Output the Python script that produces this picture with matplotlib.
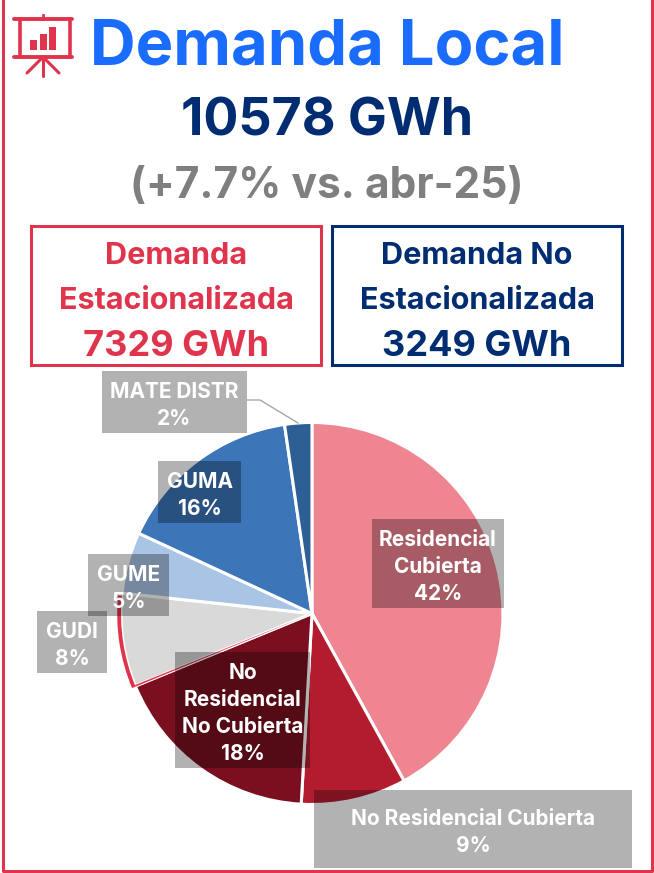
import matplotlib
matplotlib.use("Agg")
import matplotlib.pyplot as plt
from matplotlib.patches import Rectangle, Wedge

plt.rcParams['font.family'] = ['Inter', 'DejaVu Sans']

# Datos del grafico
segmentos = ["Residencial\nCubierta", "No Residencial Cubierta", "No\nResidencial\nNo Cubierta",
             "GUDI", "GUME", "GUMA", "MATE DISTR"]
porcentajes = [42, 9, 18, 8, 5, 16, 2]
valores = [42.0, 8.9, 17.9, 7.9, 5.2, 15.8, 2.3]
colores = ["#f08592", "#b31b2f", "#7a101f", "#d9d9d9", "#a9c4e4", "#3c75b8", "#2d5f94"]

titulo = "Demanda Local"
total = "10578 GWh"
variacion = "(+7.7% vs. abr-25)"
estacional = ["Demanda", "Estacionalizada", "7329 GWh"]
no_estacional = ["Demanda No", "Estacionalizada", "3249 GWh"]

ROJO = "#e0344d"
AZUL = "#002d72"

fig = plt.figure(figsize=(6.54, 8.73), dpi=100)

# Eje de fondo en pixeles, para los textos y cuadros
fondo = fig.add_axes([0, 0, 1, 1])
fondo.set_xlim(0, 654)
fondo.set_ylim(873, 0)
fondo.axis("off")

# Marco exterior
fondo.plot([2.5, 2.5, 651.5, 651.5], [0, 871, 871, 0], color=ROJO, lw=2.2)

# Icono de presentacion
fondo.plot([14, 72], [19, 19], color=ROJO, lw=2.8, solid_capstyle="round")
fondo.plot([14, 72], [57, 57], color=ROJO, lw=2.8, solid_capstyle="round")
fondo.plot([20, 20], [19, 57], color=ROJO, lw=2.6)
fondo.plot([70, 70], [19, 57], color=ROJO, lw=2.6)
fondo.plot([43, 43], [15, 19], color=ROJO, lw=2)
for xf, yf in [(27, 73), (59, 73), (43, 76)]:
    fondo.plot([43, xf], [57, yf], color=ROJO, lw=2.2, solid_capstyle="round")
for x0, y0 in [(30, 40), (40, 34), (49, 27)]:
    fondo.add_patch(Rectangle((x0, y0), 7, 50 - y0, color=ROJO, lw=0))

# Encabezados
fondo.text(327.5, 48, titulo, color="#1a6cff", fontsize=45.5, fontweight="bold", ha="center", va="center")
fondo.text(327, 122, total, color=AZUL, fontsize=37.4, fontweight="bold", ha="center", va="center")
fondo.text(327, 187, variacion, color="#7f7f7f", fontsize=30.6, fontweight="bold", ha="center", va="center")

# Cuadros de demanda
fondo.add_patch(Rectangle((31, 226), 289.5, 138.5, fc="white", ec=ROJO, lw=2.2))
fondo.add_patch(Rectangle((332, 226), 289.5, 138.5, fc="white", ec=AZUL, lw=2.2))
tam = [22, 22, 26]
for y, a, b, s in zip([256, 301, 347], estacional, no_estacional, tam):
    fondo.text(176, y, a, color=ROJO, fontsize=s, fontweight="bold", ha="center", va="center")
    fondo.text(477, y, b, color=AZUL, fontsize=s, fontweight="bold", ha="center", va="center")

# Torta
torta = fig.add_axes([121 / 654, 1 - 804.5 / 873, 382 / 654, 382 / 873])
wedges, _ = torta.pie(valores, colors=colores, startangle=90, counterclock=False, radius=1,
                      wedgeprops=dict(edgecolor="white", linewidth=2.2))
torta.set_xlim(-1, 1)
torta.set_ylim(-1, 1)
for w in wedges:
    w.set_clip_on(False)

# La porcion GUDI tiene un borde rojo por fuera y hacia la porcion oscura
gris = wedges[3]
torta.add_patch(Wedge((0, 0), 1.02, gris.theta1 + 0.8, gris.theta2 + 0.2, width=0.02, fc=ROJO, ec="none", clip_on=False))
torta.add_patch(Wedge((0, 0), 1.0, gris.theta2 - 0.3, gris.theta2 + 0.2, fc=ROJO, ec="none", clip_on=False))

# Capa superior para las etiquetas
capa = fig.add_axes([0, 0, 1, 1])
capa.set_xlim(0, 654)
capa.set_ylim(873, 0)
capa.axis("off")
capa.patch.set_alpha(0)

cajas = [(372, 519, 132, 89), (314, 790, 318, 78), (175, 652, 135, 116),
         (37, 611, 70, 62), (88, 554, 81, 62), (158, 461, 83, 62), (102, 371, 145, 62)]
for caja, seg, p in zip(cajas, segmentos, porcentajes):
    x, y, an, al = caja
    capa.add_patch(Rectangle((x, y), an, al, fc="black", alpha=0.3, lw=0))
    capa.text(x + an / 2, y + al / 2 + 3.5, f"{seg}\n{p}%", color="white", fontsize=15, fontweight="bold",
              ha="center", va="center", linespacing=1.42)

# Linea guia de MATE DISTR
capa.plot([247, 260, 298], [400, 400, 423], color="#a6a6a6", lw=1)

fig.savefig("out.png", dpi=100)
